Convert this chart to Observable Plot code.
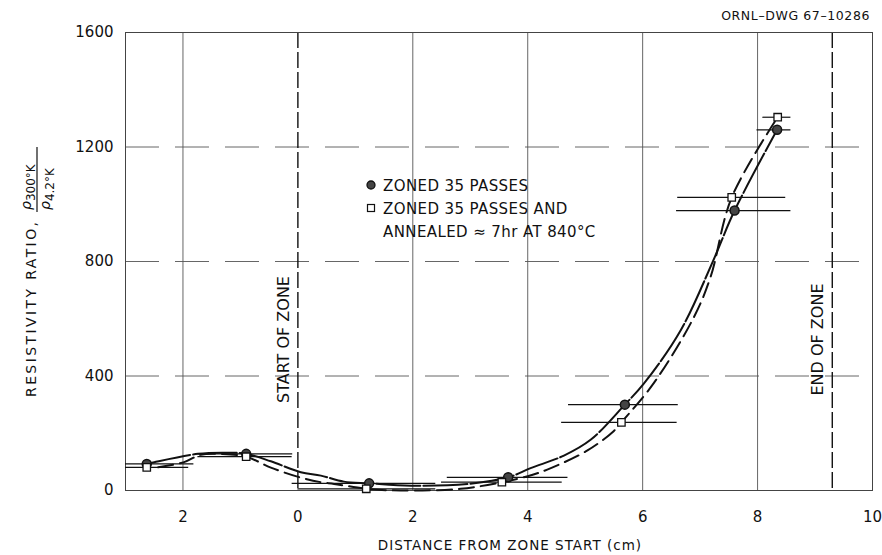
<!DOCTYPE html>
<html><head><meta charset="utf-8">
<script src="https://cdn.jsdelivr.net/npm/d3@7"></script>
<script src="https://cdn.jsdelivr.net/npm/@observablehq/plot@0.6"></script>
<style>body{margin:0;background:#fff} #chart svg{font-family:"DejaVu Sans",sans-serif}</style>
</head><body><div id="chart"></div>
<script>
// Measured points: ZONED 35 PASSES (filled circles)
const zonedX = [-2.63, -0.90, 1.24, 3.66, 5.69, 7.60, 8.34];
const zonedY = [93, 128, 25, 46, 300, 978, 1260];
const zonedLo = [-3.0, -1.74, -0.1, 2.6, 4.71, 6.59, 7.99];
const zonedHi = [-1.81, -0.09, 2.4, 4.7, 6.62, 8.58, 8.58];
// ZONED 35 PASSES AND ANNEALED (open squares)
const annX = [-2.63, -0.90, 1.19, 3.55, 5.63, 7.55, 8.35];
const annY = [81, 118, 6, 29, 238, 1024, 1304];
const annLo = [-3.0, -1.74, 0.0, 2.5, 4.59, 6.61, 8.09];
const annHi = [-1.9, -0.1, 2.4, 4.6, 6.6, 8.49, 8.58];
// hand-drawn fitted curves
const zonedCurveX = [-2.63, -2.5, -1.74, -1.3, -0.9, -0.47, 0.05, 0.4, 0.8, 1.24, 1.97, 2.96, 3.66, 4.05, 4.63, 5.10, 5.69, 6.02, 6.66, 7.23, 7.60, 8.34];
const zonedCurveY = [93, 99, 128, 132, 128, 102, 64, 52, 31, 25, 17, 23, 46, 78, 122, 178, 300, 373, 559, 804, 978, 1260];
const annCurveX = [-2.43, -1.98, -1.69, -1.34, -0.9, -0.47, 0.05, 0.4, 0.63, 1.19, 1.79, 2.83, 3.55, 4.0, 4.34, 5.04, 5.50, 5.63, 6.19, 6.89, 7.18, 7.55, 8.35];
const annCurveY = [81, 99, 125, 128, 118, 80, 45, 29, 23, 6, 0, 6, 29, 50, 73, 140, 208, 238, 374, 605, 745, 1024, 1304];
const xTicks = [-2, 0, 2, 4, 6, 8, 10];
const yTicks = [0, 400, 800, 1200, 1600];
const gridX = [-2, 2, 4, 6, 8];
const gridY = [400, 800, 1200];
const zoneEdges = [0, 9.3];
const zoneLabels = ["START OF ZONE", "END OF ZONE"];

const zoned = zonedX.map((x, i) => ({x, y: zonedY[i], lo: zonedLo[i], hi: zonedHi[i]}));
const ann = annX.map((x, i) => ({x, y: annY[i], lo: annLo[i], hi: annHi[i]}));
const zCurve = zonedCurveX.map((x, i) => ({x, y: zonedCurveY[i]}));
const aCurve = annCurveX.map((x, i) => ({x, y: annCurveY[i]}));

const W = 882, H = 555, ML = 125, MR = 10, MT = 32, MB = 65;

const plot = Plot.plot({
  width: W, height: H,
  marginLeft: ML, marginRight: MR, marginTop: MT, marginBottom: MB,
  style: {fontSize: "15px", fontFamily: "DejaVu Sans, sans-serif", color: "#111", background: "#fff"},
  x: {domain: [-3, 10], ticks: xTicks, tickFormat: d => String(Math.abs(d)), tickSize: 0, tickPadding: 21, label: null},
  y: {domain: [0, 1600], ticks: yTicks, tickFormat: d => String(d), tickSize: 0, tickPadding: 12, label: null},
  marks: [
    Plot.ruleX(gridX, {stroke: "#555", strokeWidth: 0.9}),
    Plot.ruleY(gridY, {stroke: "#555", strokeWidth: 0.9, strokeDasharray: "34,16"}),
    Plot.ruleX(zoneEdges, {stroke: "#111", strokeWidth: 1.4, strokeDasharray: "16,4"}),
    Plot.frame({stroke: "#444", strokeWidth: 1}),
    Plot.ruleY(zoned, {y: "y", x1: "lo", x2: "hi", stroke: "#111", strokeWidth: 1.2}),
    Plot.ruleY(ann, {y: "y", x1: "lo", x2: "hi", stroke: "#111", strokeWidth: 1.2}),
    Plot.line(zCurve, {x: "x", y: "y", curve: "catmull-rom", stroke: "#111", strokeWidth: 2, strokeDasharray: "44,3"}),
    Plot.line(aCurve, {x: "x", y: "y", curve: "catmull-rom", stroke: "#111", strokeWidth: 2, strokeDasharray: "15,7"}),
    Plot.dot(zoned, {x: "x", y: "y", r: 4.5, fill: "#444", stroke: "#111", strokeWidth: 1.5}),
    Plot.dot(ann, {x: "x", y: "y", r: 4.2, symbol: "square", fill: "#fff", stroke: "#111", strokeWidth: 1.3}),
    Plot.text(zoneLabels, {x: zoneEdges, frameAnchor: "middle", dy: 78, dx: -14, rotate: -90, text: d => d, fontSize: 16, fill: "#111"})
  ]
});

const svg = d3.select(plot);
const ff = "DejaVu Sans, sans-serif";
// drawing number
svg.append("text").attr("x", 870).attr("y", 20).attr("text-anchor", "end")
  .attr("font-size", 12.5).attr("font-family", ff).attr("letter-spacing", 0.6).attr("fill", "#111").text("ORNL–DWG 67–10286");
// x axis title
svg.append("text").attr("x", 510).attr("y", 550).attr("text-anchor", "middle")
  .attr("font-size", 13.5).attr("font-family", ff).attr("letter-spacing", 1).attr("fill", "#111").text("DISTANCE FROM ZONE START (cm)");
// y axis title with fraction
const g = svg.append("g").attr("transform", "translate(36,397) rotate(-90)").attr("font-family", ff).attr("fill", "#111").attr("text-anchor", "start");
g.append("text").attr("x", 0).attr("y", 0).attr("font-size", 14).attr("letter-spacing", 2.4).text("RESISTIVITY RATIO,");
const num = g.append("text").attr("x", 187).attr("y", -5).attr("font-size", 14);
num.append("tspan").attr("font-style", "italic").text("ρ");
num.append("tspan").attr("font-size", 12).attr("dy", 4).text("300°K");
g.append("line").attr("x1", 185).attr("x2", 250).attr("y1", 1).attr("y2", 1).attr("stroke", "#111").attr("stroke-width", 1.2);
const den = g.append("text").attr("x", 187).attr("y", 14).attr("font-size", 14);
den.append("tspan").attr("font-style", "italic").text("ρ");
den.append("tspan").attr("font-size", 12).attr("dy", 4).text("4.2°K");
// legend
const lg = svg.append("g").attr("font-family", ff).attr("font-size", 15).attr("letter-spacing", 0.4).attr("fill", "#111").attr("text-anchor", "start");
lg.append("circle").attr("cx", 371).attr("cy", 185).attr("r", 4).attr("fill", "#444").attr("stroke", "#111").attr("stroke-width", 1.3);
lg.append("rect").attr("x", 367.5).attr("y", 204.5).attr("width", 7).attr("height", 7).attr("fill", "#fff").attr("stroke", "#111").attr("stroke-width", 1.2);
lg.append("text").attr("x", 383).attr("y", 191).text("ZONED 35 PASSES");
lg.append("text").attr("x", 383).attr("y", 214).text("ZONED 35 PASSES AND");
lg.append("text").attr("x", 383).attr("y", 237).text("ANNEALED ≈ 7hr AT 840°C");

document.getElementById("chart").appendChild(plot);
</script>
</body></html>
